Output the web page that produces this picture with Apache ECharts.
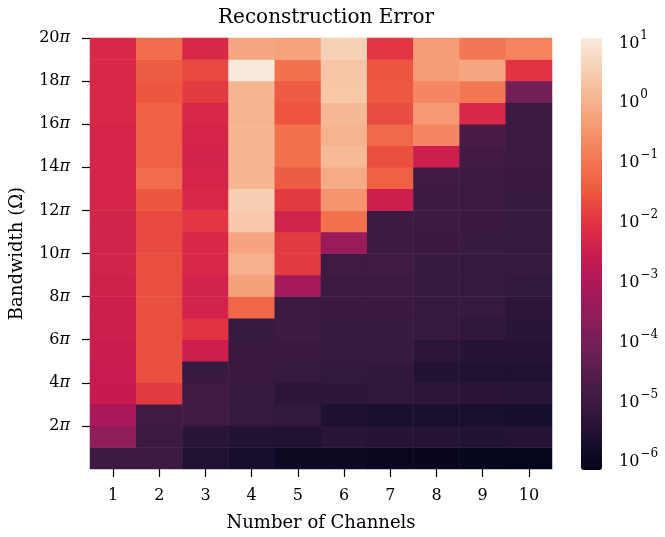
<!DOCTYPE html>
<html><head><meta charset="utf-8">
<script src="https://cdn.jsdelivr.net/npm/echarts@6/dist/echarts.min.js"></script>
<style>html,body{margin:0;padding:0;background:#fff}#c{width:665px;height:537px}</style>
</head><body><div id="c"></div>
<script>
// Number of channels (x categories)
const channels = ['1','2','3','4','5','6','7','8','9','10'];
// Bandwidth bands: band k spans [(k-1)π, kπ], k = 1..20 (bottom to top)
const bandwidthBands = [1,2,3,4,5,6,7,8,9,10,11,12,13,14,15,16,17,18,19,20];
const bandwidthTicks = [2,4,6,8,10,12,14,16,18,20];
const colorbarExponents = [-6,-5,-4,-3,-2,-1,0,1];
const colorMinExp = -6.18, colorMaxExp = 1.04;

// log10(reconstruction error) per channel count, from lowest bandwidth band up
const logErrCh1  = [-5.05,-3.6,-3.15,-2.65,-2.6,-2.55,-2.5,-2.5,-2.45,-2.4,-2.4,-2.4,-2.35,-2.35,-2.35,-2.35,-2.3,-2.3,-2.3,-2.3];
const logErrCh2  = [-5.05,-5.05,-4.95,-1.95,-1.65,-1.65,-1.65,-1.65,-1.65,-1.65,-1.75,-1.75,-1.55,-1.2,-1.4,-1.4,-1.4,-1.55,-1.45,-1.2];
const logErrCh3  = [-5.6,-5.4,-4.95,-4.95,-5.1,-2.5,-2.05,-2.4,-2.4,-2.3,-2.3,-2.0,-2.3,-2.35,-2.4,-2.35,-2.3,-1.95,-1.75,-2.3];
const logErrCh4  = [-5.75,-5.55,-5.12,-5.1,-5.08,-5.08,-5.15,-1.3,-0.3,-0.05,-0.25,0.38,0.5,0.05,0.05,0.05,0.0,0.02,1.02,-0.2];
const logErrCh5  = [-5.95,-5.6,-5.22,-5.35,-5.15,-5.08,-5.0,-5.05,-3.25,-1.95,-1.95,-2.4,-1.95,-1.45,-1.1,-1.1,-1.6,-1.45,-1.1,-0.28];
const logErrCh6  = [-6.0,-5.4,-5.65,-5.3,-5.18,-5.12,-5.1,-5.07,-5.05,-4.97,-3.4,-1.1,-0.5,-0.15,0.12,0.0,0.1,0.35,0.32,0.55];
const logErrCh7  = [-6.05,-5.45,-5.72,-5.28,-5.25,-5.1,-5.1,-5.08,-5.05,-4.97,-5.05,-5.0,-2.5,-1.4,-1.65,-1.25,-1.7,-1.5,-1.55,-2.0];
const logErrCh8  = [-6.08,-5.5,-5.73,-5.3,-5.55,-5.35,-5.15,-5.12,-5.1,-5.1,-5.08,-5.05,-5.02,-4.97,-2.5,-0.75,-0.45,-0.75,-0.4,-0.4];
const logErrCh9  = [-6.1,-5.55,-5.73,-5.38,-5.6,-5.45,-5.25,-5.15,-5.12,-5.12,-5.1,-5.08,-5.05,-5.05,-4.92,-4.78,-2.3,-1.0,-0.2,-1.0];
const logErrCh10 = [-6.15,-5.5,-5.76,-5.4,-5.62,-5.45,-5.4,-5.35,-5.2,-5.12,-5.15,-5.12,-5.1,-5.08,-5.05,-5.05,-5.05,-4.1,-2.05,-0.8];

const rocket = ['#03051a','#1c1030','#35193e','#521c4b','#701f57','#8e1d5a','#ad1759','#cb1b4f',
                '#e13342','#ed5840','#f37651','#f5956f','#f6b48f','#f7d0b4','#faebdd'];

const columns = [logErrCh1,logErrCh2,logErrCh3,logErrCh4,logErrCh5,logErrCh6,logErrCh7,logErrCh8,logErrCh9,logErrCh10];
const heatData = [];
columns.forEach((col, ci) => col.forEach((v, ri) => heatData.push([ci, ri, v])));

const FONT = 'DejaVu Serif';
const tickStyle = {show: true, length: 8, lineStyle: {color: '#000', width: 1.2}};
const chart = echarts.init(document.getElementById('c'), null, {renderer: 'canvas'});
chart.setOption({
  animation: false,
  backgroundColor: '#fff',
  title: {
    text: 'Reconstruction Error', left: 321, top: 3, textAlign: 'center',
    textStyle: {fontFamily: FONT, fontSize: 20, fontWeight: 'normal', color: '#000'}
  },
  grid: [
    {left: 90, top: 38, width: 462, height: 433},
    {left: 581, top: 38, width: 21, height: 432}
  ],
  xAxis: [
    {
      type: 'category', data: channels, gridIndex: 0,
      axisLine: {show: false}, axisTick: Object.assign({alignWithLabel: true}, tickStyle),
      axisLabel: {fontFamily: FONT, fontSize: 16, color: '#000', margin: 19},
      splitLine: {show: false},
      name: 'Number of Channels', nameLocation: 'middle', nameGap: 45,
      nameTextStyle: {fontFamily: FONT, fontSize: 18, color: '#000'}
    },
    {type: 'value', gridIndex: 1, show: false, min: 0, max: 1}
  ],
  yAxis: [
    {type: 'category', data: bandwidthBands, gridIndex: 0, show: false},
    {
      type: 'value', gridIndex: 0, min: 0, max: 20, position: 'left',
      axisLine: {show: false}, splitLine: {show: false},
      axisTick: Object.assign({customValues: bandwidthTicks}, tickStyle),
      axisLabel: {
        customValues: bandwidthTicks, margin: 20, color: '#000',
        formatter: v => '{n|' + v + '}{p|π}',
        rich: {n: {fontFamily: FONT, fontSize: 16, color: '#000'},
               p: {fontFamily: FONT, fontSize: 16, fontStyle: 'italic', color: '#000'}}
      },
      name: 'Bandwidth (Ω)', nameLocation: 'middle', nameGap: 64,
      nameTextStyle: {fontFamily: FONT, fontSize: 18, color: '#000'}
    },
    {
      type: 'value', gridIndex: 1, min: colorMinExp, max: colorMaxExp, position: 'right',
      axisLine: {show: false}, splitLine: {show: false},
      axisTick: Object.assign({customValues: colorbarExponents}, tickStyle),
      axisLabel: {
        customValues: colorbarExponents, margin: 17, color: '#000',
        formatter: v => '{b|10}{s|' + (v < 0 ? '\u2212' + (-v) : v) + '}',
        rich: {b: {fontFamily: FONT, fontSize: 16, color: '#000', verticalAlign: 'bottom', lineHeight: 22},
               s: {fontFamily: FONT, fontSize: 12, color: '#000', verticalAlign: 'top', lineHeight: 22, padding: [0,0,8,1]}}
      }
    }
  ],
  visualMap: {
    type: 'continuous', min: colorMinExp, max: colorMaxExp, dimension: 2, seriesIndex: 0,
    inRange: {color: rocket}, calculable: false, hoverLink: false,
    left: 581, top: 38, itemWidth: 21, itemHeight: 432, padding: 0, text: null, showLabel: false,
    orient: 'vertical'
  },
  series: [{
    type: 'heatmap', xAxisIndex: 0, yAxisIndex: 0, data: heatData,
    itemStyle: {borderWidth: 0}, emphasis: {disabled: true}, progressive: 0
  }]
});
</script></body></html>
